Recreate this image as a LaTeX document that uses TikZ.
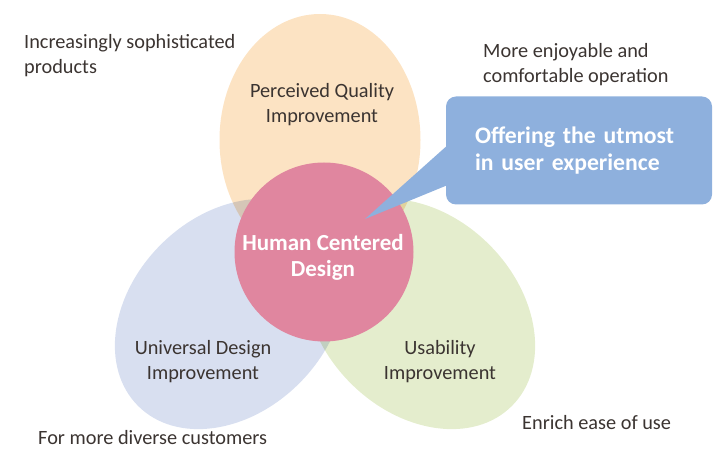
\documentclass[tikz,border=0pt]{standalone}
\usepackage{fontspec}
\setmainfont{Carlito}
\usetikzlibrary{calc}

\definecolor{qualcol}{HTML}{FCE3C3}
\definecolor{univcol}{HTML}{D8DFF0}
\definecolor{usabcol}{HTML}{E4EDCD}
\definecolor{hcdcol}{HTML}{E0869F}
\definecolor{offercol}{HTML}{8EB0DD}
\definecolor{textcol}{HTML}{3B3431}

\tikzset{
  note/.style={text=textcol, inner sep=0pt, font=\fontsize{20.3}{25}\selectfont},
  callout/.style={fill=offercol, rounded corners=10pt, minimum width=266pt,
    minimum height=108pt, text width=208pt, inner xsep=29pt, align=left,
    text=white, font=\bfseries\fontsize{23.7}{27}\selectfont}
}

\begin{document}
\begin{tikzpicture}[x=1pt,y=1pt]

\useasboundingbox (0,0) rectangle (715,450);

% the three fields
\fill [qualcol] (320,310) ellipse [x radius=100.5pt, y radius=126pt];

\begin{scope}[blend mode=multiply]
\fill [univcol] (230,136) ellipse [x radius=130pt, y radius=98pt, rotate=45];
\fill [usabcol] (420,136) ellipse [x radius=130pt, y radius=98pt, rotate=-45];
\end{scope}

% centre
\node (hcd) at (324,198) [circle, fill=hcdcol, minimum size=179pt, inner sep=0pt] {};

\node (hcdtext) at (323,192.5) [align=center, text=white, inner sep=0pt,
  font=\bfseries\fontsize{23}{26}\selectfont] {Human Centered\\Design};

% callout
\coordinate (tip) at (365,231);

\node (offer) at (579,299.5) [callout] {Offering the utmost\\in user experience};

\fill [offercol] ($(offer.west)+(2,5.5)$) -- (tip) -- ($(offer.west)+(2,-34.5)$) -- cycle;

% field labels
\node (qual) at (322,345) [note, align=center] {Perceived Quality\\Improvement};
\node (univ) at (203,88.5) [note, align=center] {Universal Design\\Improvement};
\node (usab) at (440,88.5) [note, align=center] {Usability\\Improvement};

% outer notes
\node (sophis) at (24,394) [note, anchor=west, align=left] {Increasingly sophisticated\\products};
\node (enjoy) at (483,385) [note, anchor=west, align=left] {More enjoyable and\\comfortable operation};
\node (diverse) at (38,6) [note, anchor=base west] {For more diverse customers};
\node (ease) at (522,21) [note, anchor=base west] {Enrich ease of use};

\end{tikzpicture}
\end{document}
